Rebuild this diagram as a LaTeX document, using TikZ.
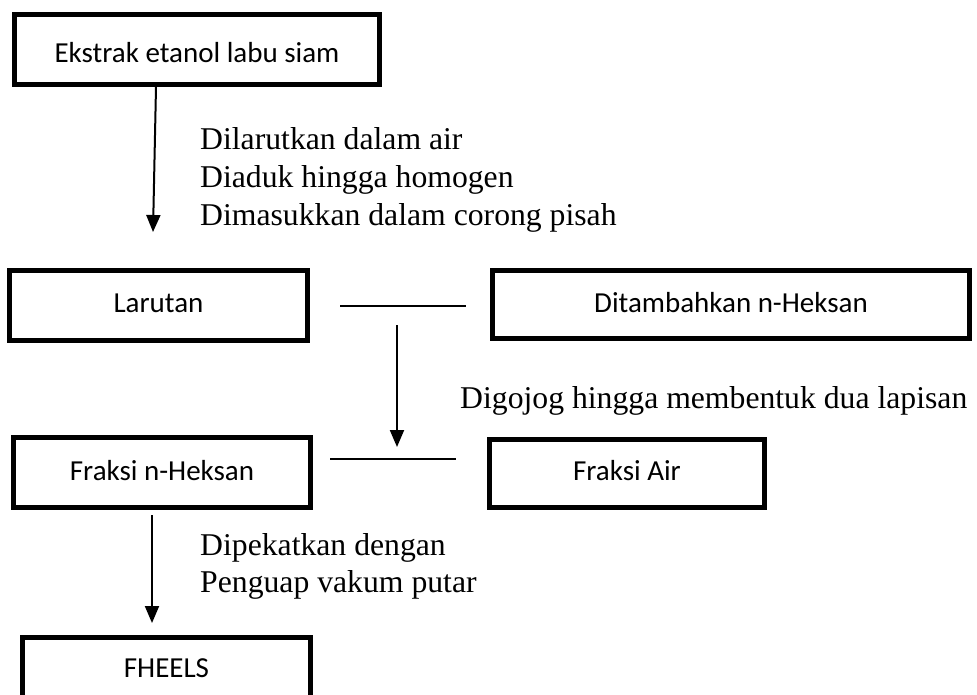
\documentclass[tikz,border=0pt]{standalone}
\usepackage{fontspec}
\setmainfont{Liberation Serif}
\newfontfamily\boxfont{Carlito}
\usetikzlibrary{arrows.meta}
\begin{document}
\begin{tikzpicture}[x=1pt,y=-1pt,
  box/.style={draw=black, line width=5pt, rectangle, inner sep=0pt, text depth=6pt,
    font=\boxfont\fontsize{29}{35}\selectfont},
  lbl/.style={anchor=base west, inner sep=0pt, font=\fontsize{31.7}{38}\selectfont},
  arr/.style={line width=2pt, -{Triangle[length=17pt,width=14pt]}},
  thin/.style={line width=1.5pt}]
\clip (0,0) rectangle (977,694);
\fill[white] (0,0) rectangle (977,694);

\node[box, minimum width=365pt, minimum height=70pt, text height=31pt] (b1) at (197,49.5) {Ekstrak etanol labu siam};
\node[box, minimum width=298pt, minimum height=70pt, text height=19pt] (b2) at (158.5,305.5) {Larutan};
\node[box, minimum width=477pt, minimum height=68pt, text height=21pt] (b3) at (731,304.5) {Ditambahkan n-Heksan};
\node[box, minimum width=297pt, minimum height=70pt, text height=21pt] (b4) at (162,472.5) {Fraksi n-Heksan};
\node[box, minimum width=275pt, minimum height=68pt, text height=19pt] (b5) at (627,473.5) {Fraksi Air};
\node[box, minimum width=288pt, minimum height=70pt, text height=15pt] (b6) at (166.5,672.5) {FHEELS};

\node[lbl] (t1) at (200,149) {Dilarutkan dalam air};
\node[lbl] (t2) at (200,187) {Diaduk hingga homogen};
\node[lbl] (t3) at (200,225) {Dimasukkan dalam corong pisah};
\node[lbl] (t4) at (460,408) {Digojog hingga membentuk dua lapisan};
\node[lbl] (t5) at (200,555) {Dipekatkan dengan};
\node[lbl] (t6) at (200,592) {Penguap vakum putar};

\coordinate (a1s) at (156,87);
\coordinate (a1e) at (153,232);
\coordinate (a2s) at (397,325);
\coordinate (a2e) at (397,447);
\coordinate (a3s) at (152,515);
\coordinate (a3e) at (152,623);
\coordinate (l1s) at (340,306);
\coordinate (l1e) at (466,306);
\coordinate (l2s) at (330,459);
\coordinate (l2e) at (456,459);

\draw[arr] (a1s) -- (a1e);
\draw[arr] (a2s) -- (a2e);
\draw[arr] (a3s) -- (a3e);
\draw[thin] (l1s) -- (l1e);
\draw[thin] (l2s) -- (l2e);
\end{tikzpicture}
\end{document}
